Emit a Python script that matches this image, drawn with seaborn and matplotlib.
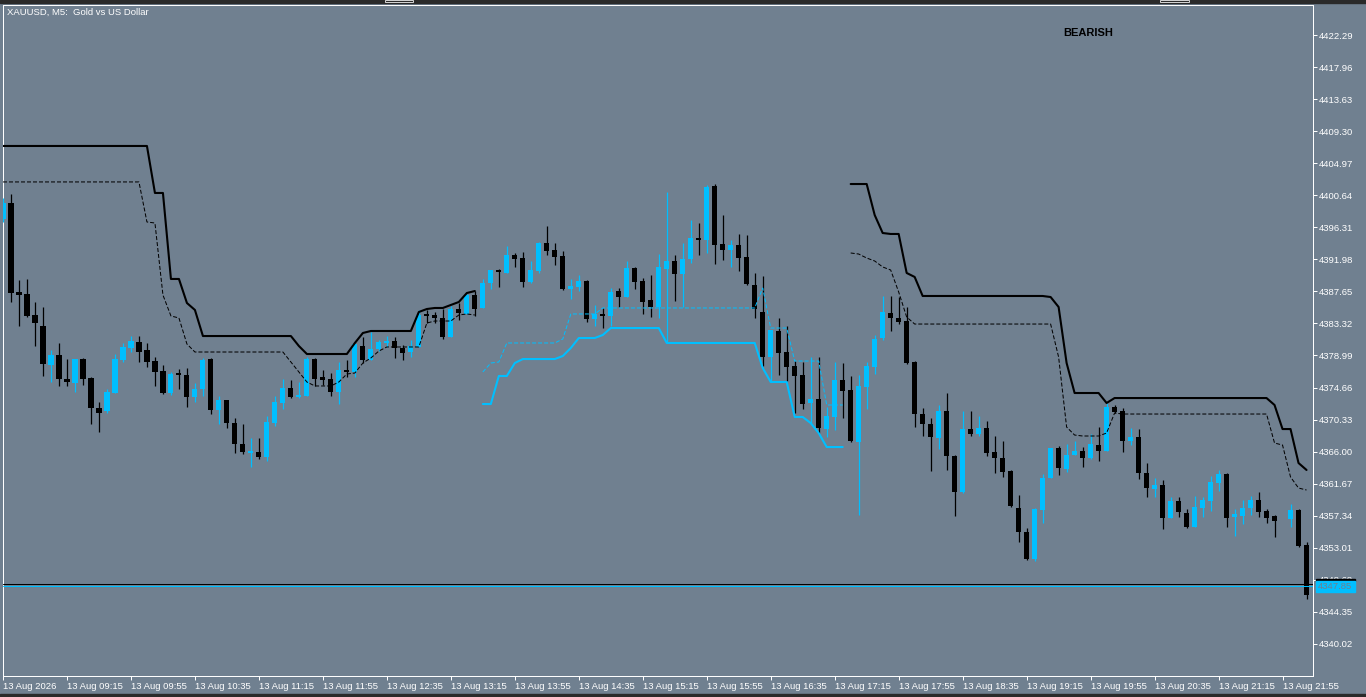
import numpy as np
import pandas as pd
import matplotlib
matplotlib.use('Agg')
import matplotlib.pyplot as plt
from matplotlib.patches import Rectangle
import seaborn as sns

nan = np.nan

# XAUUSD M5 candles, 13 Aug, one value per bar (bar 160 has no candle)
opens = [
    4397.43, 4399.59, 4387.57, 4387.30, 4384.46, 4382.98, 4377.70, 4379.05, 4375.81, 4375.27,
    4378.51, 4375.95, 4371.89, 4371.49, 4373.92, 4378.38, 4380.00, 4380.81, 4379.73, 4378.24,
    4376.89, 4373.92, 4376.62, 4376.35, 4373.38, 4374.46, 4378.51, 4371.62, 4372.98, 4369.86,
    4367.03, 4365.81, 4365.95, 4365.27, 4369.86, 4372.57, 4374.60, 4373.38, 4373.51, 4378.51,
    4376.08, 4375.81, 4374.06, 4377.03, 4376.76, 4380.27, 4378.38, 4379.86, 4380.68, 4380.95,
    4380.00, 4379.46, 4380.14, 4384.60, 4384.46, 4384.06, 4381.49, 4385.27, 4384.60, 4387.16,
    4385.41, 4388.78, 4390.54, 4390.14, 4392.57, 4392.16, 4388.92, 4390.41, 4394.19, 4393.24,
    4392.43, 4387.97, 4388.24, 4389.05, 4383.92, 4384.60, 4384.33, 4387.70, 4386.89, 4390.81,
    4389.05, 4386.49, 4385.54, 4390.68, 4391.76, 4390.00, 4392.03, 4394.87, 4394.60, 4401.89,
    4394.06, 4393.24, 4393.92, 4392.30, 4388.51, 4384.87, 4378.78, 4382.30, 4379.46, 4377.57,
    4376.35, 4372.57, 4373.11, 4369.05, 4370.68, 4375.68, 4374.33, 4367.30, 4374.73, 4377.43,
    4381.35, 4384.73, 4384.06, 4383.65, 4378.11, 4371.08, 4369.73, 4367.84, 4371.49, 4365.41,
    4360.54, 4369.05, 4368.38, 4369.19, 4365.95, 4365.14, 4363.38, 4358.38, 4355.14, 4351.49,
    4358.11, 4362.43, 4366.49, 4363.65, 4365.54, 4366.08, 4365.14, 4366.89, 4366.08, 4372.03,
    4371.49, 4367.43, 4367.97, 4363.11, 4360.95, 4361.49, 4357.03, 4359.32, 4357.70, 4355.81,
    4358.38, 4359.32, 4361.76, 4362.97, 4357.16, 4357.30, 4358.38, 4359.46, 4357.97, 4357.30,
    nan, 4356.89, 4358.11, 4353.38,
]
highs = [
    4400.27, 4400.81, 4389.19, 4389.33, 4386.22, 4385.54, 4379.73, 4380.68, 4378.51, 4378.51,
    4378.65, 4376.08, 4372.70, 4374.46, 4379.19, 4380.68, 4381.62, 4381.62, 4380.68, 4378.78,
    4377.70, 4376.76, 4377.16, 4377.30, 4375.27, 4378.65, 4378.65, 4373.51, 4372.98, 4370.54,
    4369.73, 4367.84, 4367.84, 4370.81, 4373.51, 4375.81, 4375.68, 4375.41, 4378.78, 4378.65,
    4377.03, 4376.62, 4378.11, 4378.38, 4380.54, 4381.49, 4382.16, 4381.08, 4381.62, 4381.49,
    4380.41, 4381.08, 4385.14, 4385.14, 4384.87, 4385.27, 4385.68, 4386.08, 4387.30, 4387.70,
    4389.33, 4390.54, 4390.68, 4393.79, 4392.84, 4392.97, 4391.76, 4394.33, 4396.49, 4394.19,
    4393.11, 4389.33, 4389.86, 4389.19, 4385.81, 4385.41, 4388.11, 4388.11, 4391.76, 4390.95,
    4389.46, 4389.86, 4392.70, 4401.08, 4392.57, 4394.19, 4397.30, 4396.89, 4402.03, 4402.16,
    4397.97, 4394.60, 4395.41, 4395.27, 4390.14, 4389.73, 4382.44, 4384.06, 4382.98, 4378.24,
    4378.11, 4378.78, 4378.78, 4372.03, 4378.11, 4377.97, 4376.22, 4376.35, 4378.11, 4381.76,
    4387.03, 4387.03, 4386.89, 4385.54, 4378.24, 4371.89, 4370.54, 4372.30, 4373.92, 4365.54,
    4371.49, 4371.49, 4370.81, 4370.14, 4368.11, 4367.43, 4363.52, 4360.14, 4355.68, 4358.38,
    4362.97, 4366.49, 4366.76, 4367.03, 4367.43, 4366.62, 4368.38, 4369.32, 4372.57, 4372.30,
    4371.89, 4369.19, 4369.05, 4364.46, 4362.43, 4362.16, 4359.86, 4359.86, 4358.24, 4360.00,
    4359.86, 4362.70, 4363.52, 4363.11, 4358.24, 4359.46, 4360.00, 4360.54, 4358.24, 4357.43,
    nan, 4358.92, 4358.24, 4353.79,
]
lows = [
    4397.03, 4386.22, 4382.98, 4384.19, 4380.27, 4376.22, 4375.41, 4374.87, 4374.87, 4374.06,
    4375.00, 4369.73, 4368.65, 4371.22, 4373.92, 4378.11, 4379.46, 4378.11, 4377.43, 4374.87,
    4373.79, 4373.65, 4374.46, 4372.03, 4372.70, 4373.51, 4371.08, 4369.73, 4369.19, 4365.81,
    4365.68, 4363.92, 4364.99, 4364.73, 4369.46, 4371.76, 4373.24, 4373.24, 4373.51, 4374.87,
    4375.00, 4373.51, 4372.43, 4376.08, 4376.08, 4377.97, 4378.38, 4379.59, 4380.14, 4378.65,
    4378.38, 4378.78, 4380.14, 4383.38, 4383.38, 4381.22, 4381.49, 4383.79, 4384.60, 4384.33,
    4385.41, 4387.97, 4388.24, 4390.14, 4390.95, 4388.24, 4388.78, 4390.14, 4392.57, 4391.22,
    4387.84, 4386.62, 4387.70, 4383.51, 4382.98, 4382.70, 4382.98, 4385.54, 4386.89, 4387.97,
    4384.60, 4384.19, 4384.06, 4380.81, 4386.35, 4385.54, 4391.49, 4392.57, 4392.84, 4391.35,
    4391.89, 4390.95, 4390.41, 4388.51, 4384.06, 4377.57, 4375.41, 4376.35, 4375.54, 4371.22,
    4371.76, 4369.86, 4368.51, 4367.97, 4368.92, 4370.54, 4367.30, 4357.43, 4371.76, 4376.49,
    4381.08, 4382.30, 4383.24, 4377.84, 4369.32, 4368.11, 4363.38, 4366.35, 4363.52, 4357.30,
    4360.41, 4368.11, 4368.11, 4365.41, 4363.11, 4362.57, 4358.51, 4353.79, 4351.35, 4351.22,
    4356.35, 4362.43, 4362.84, 4363.25, 4365.54, 4363.92, 4365.00, 4364.73, 4366.08, 4371.22,
    4365.95, 4366.89, 4362.30, 4359.86, 4359.86, 4355.54, 4357.03, 4357.16, 4355.68, 4355.81,
    4357.16, 4357.97, 4360.68, 4355.81, 4354.60, 4356.22, 4357.43, 4357.16, 4356.35, 4354.46,
    nan, 4355.81, 4353.11, 4346.08,
]
closes = [
    4399.59, 4387.43, 4387.16, 4384.33, 4383.38, 4377.84, 4379.05, 4375.81, 4375.41, 4378.51,
    4375.81, 4371.89, 4371.22, 4374.06, 4378.51, 4380.14, 4380.95, 4379.46, 4378.11, 4376.76,
    4373.92, 4376.49, 4376.35, 4373.38, 4374.46, 4378.38, 4371.62, 4372.98, 4369.86, 4367.03,
    4365.95, 4366.08, 4365.27, 4370.00, 4372.70, 4374.60, 4373.38, 4373.65, 4378.51, 4375.81,
    4375.68, 4374.06, 4377.03, 4376.76, 4380.54, 4378.38, 4379.86, 4380.81, 4380.95, 4380.00,
    4379.32, 4380.27, 4384.46, 4384.33, 4384.06, 4381.49, 4385.27, 4384.73, 4387.16, 4385.27,
    4388.78, 4390.54, 4390.27, 4392.57, 4392.03, 4388.92, 4390.54, 4394.19, 4393.11, 4392.30,
    4387.97, 4388.38, 4389.05, 4383.92, 4384.60, 4384.33, 4387.57, 4386.89, 4390.81, 4388.92,
    4386.22, 4385.54, 4390.95, 4391.76, 4390.00, 4392.03, 4394.87, 4394.60, 4401.76, 4393.92,
    4393.24, 4393.92, 4392.16, 4388.65, 4385.27, 4378.78, 4382.44, 4379.32, 4377.43, 4376.22,
    4372.43, 4373.11, 4369.19, 4370.81, 4375.68, 4374.19, 4367.43, 4374.87, 4377.57, 4381.22,
    4384.87, 4384.06, 4383.51, 4377.97, 4371.08, 4369.73, 4367.97, 4371.49, 4365.41, 4360.54,
    4369.05, 4368.38, 4369.19, 4365.81, 4365.14, 4363.25, 4358.65, 4355.14, 4351.49, 4358.24,
    4362.43, 4366.49, 4363.78, 4365.54, 4366.08, 4365.14, 4367.03, 4366.08, 4372.03, 4371.35,
    4367.43, 4367.97, 4363.11, 4361.08, 4361.49, 4357.03, 4359.32, 4357.84, 4355.81, 4358.51,
    4359.46, 4361.89, 4362.97, 4357.03, 4357.57, 4358.38, 4359.46, 4357.84, 4357.03, 4356.62,
    nan, 4358.11, 4353.25, 4346.62,
]

# trailing stop indicator: black = bearish stop, cyan = bullish stop, dashed = inner band
stop_upper = [
    4407.30, 4407.30, 4407.30, 4407.30, 4407.30, 4407.30, 4407.30, 4407.30, 4407.30, 4407.30,
    4407.30, 4407.30, 4407.30, 4407.30, 4407.30, 4407.30, 4407.30, 4407.30, 4407.30, 4400.95,
    4400.95, 4389.33, 4389.33, 4386.08, 4385.14, 4381.62, 4381.62, 4381.62, 4381.62, 4381.62,
    4381.62, 4381.62, 4381.62, 4381.62, 4381.62, 4381.62, 4381.62, 4380.27, 4379.19, 4379.19,
    4379.19, 4379.19, 4379.19, 4379.19, 4380.68, 4382.03, 4382.30, 4382.30, 4382.30, 4382.30,
    4382.30, 4382.30, 4384.87, 4385.27, 4385.41, 4385.41, 4385.81, 4386.22, 4387.43, 4387.70,
    nan, nan, nan, nan, nan, nan, nan, nan, nan, nan,
    nan, nan, nan, nan, nan, nan, nan, nan, nan, nan,
    nan, nan, nan, nan, nan, nan, nan, nan, nan, nan,
    nan, nan, nan, nan, nan, nan, nan, nan, nan, nan,
    nan, nan, nan, nan, nan, nan, 4402.16, 4402.16, 4402.16, 4397.97,
    4395.54, 4395.41, 4395.41, 4390.14, 4389.60, 4387.03, 4387.03, 4387.03, 4387.03, 4387.03,
    4387.03, 4387.03, 4387.03, 4387.03, 4387.03, 4387.03, 4387.03, 4387.03, 4387.03, 4387.03,
    4387.03, 4386.89, 4385.54, 4377.97, 4373.92, 4373.92, 4373.92, 4373.92, 4372.57, 4373.24,
    4373.24, 4373.24, 4373.24, 4373.24, 4373.24, 4373.24, 4373.24, 4373.24, 4373.24, 4373.24,
    4373.24, 4373.24, 4373.24, 4373.24, 4373.24, 4373.24, 4373.24, 4373.24, 4373.24, 4372.30,
    4369.05, 4369.05, 4364.46, 4363.52,
]
band_upper = [
    4402.44, 4402.44, 4402.44, 4402.44, 4402.44, 4402.44, 4402.44, 4402.44, 4402.44, 4402.44,
    4402.44, 4402.44, 4402.44, 4402.44, 4402.44, 4402.44, 4402.44, 4402.44, 4397.03, 4396.89,
    4387.16, 4384.33, 4384.06, 4380.54, 4379.46, 4379.46, 4379.46, 4379.46, 4379.46, 4379.46,
    4379.46, 4379.46, 4379.46, 4379.46, 4379.46, 4379.46, 4378.11, 4376.76, 4375.41, 4374.87,
    4374.87, 4374.87, 4375.41, 4376.49, 4376.62, 4377.97, 4378.65, 4379.59, 4380.14, 4380.14,
    4380.14, 4380.14, 4380.14, 4383.38, 4383.65, 4383.65, 4383.65, 4384.46, 4384.60, 4384.46,
    nan, nan, nan, nan, nan, nan, nan, nan, nan, nan,
    nan, nan, nan, nan, nan, nan, nan, nan, nan, nan,
    nan, nan, nan, nan, nan, nan, nan, nan, nan, nan,
    nan, nan, nan, nan, nan, nan, nan, nan, nan, nan,
    nan, nan, nan, nan, nan, nan, 4392.84, 4392.70, 4392.16, 4391.76,
    4390.95, 4390.54, 4387.57, 4384.19, 4383.24, 4383.24, 4383.24, 4383.24, 4383.24, 4383.24,
    4383.24, 4383.24, 4383.24, 4383.24, 4383.24, 4383.24, 4383.24, 4383.24, 4383.24, 4383.24,
    4383.24, 4383.24, 4378.78, 4369.32, 4368.24, 4368.11, 4368.11, 4368.11, 4368.51, 4371.22,
    4371.08, 4371.08, 4371.08, 4371.08, 4371.08, 4371.08, 4371.08, 4371.08, 4371.08, 4371.08,
    4371.08, 4371.08, 4371.08, 4371.08, 4371.08, 4371.08, 4371.08, 4371.08, 4371.08, 4367.16,
    4366.89, 4362.57, 4361.08, 4360.81,
]
stop_lower = [
    nan, nan, nan, nan, nan, nan, nan, nan, nan, nan,
    nan, nan, nan, nan, nan, nan, nan, nan, nan, nan,
    nan, nan, nan, nan, nan, nan, nan, nan, nan, nan,
    nan, nan, nan, nan, nan, nan, nan, nan, nan, nan,
    nan, nan, nan, nan, nan, nan, nan, nan, nan, nan,
    nan, nan, nan, nan, nan, nan, nan, nan, nan, nan,
    4372.43, 4372.43, 4376.22, 4376.22, 4377.97, 4378.51, 4378.51, 4378.51, 4378.51, 4378.51,
    4378.92, 4380.00, 4381.35, 4381.35, 4381.35, 4381.76, 4382.70, 4382.70, 4382.70, 4382.70,
    4382.70, 4382.70, 4382.70, 4380.68, 4380.68, 4380.68, 4380.68, 4380.68, 4380.68, 4380.68,
    4380.68, 4380.68, 4380.68, 4380.68, 4380.68, 4377.30, 4375.41, 4375.41, 4375.41, 4370.68,
    4370.68, 4369.86, 4368.51, 4366.62, 4366.62, 4366.62, nan, nan, nan, nan,
    nan, nan, nan, nan, nan, nan, nan, nan, nan, nan,
    nan, nan, nan, nan, nan, nan, nan, nan, nan, nan,
    nan, nan, nan, nan, nan, nan, nan, nan, nan, nan,
    nan, nan, nan, nan, nan, nan, nan, nan, nan, nan,
    nan, nan, nan, nan, nan, nan, nan, nan, nan, nan,
    nan, nan, nan, nan,
]
band_lower = [
    nan, nan, nan, nan, nan, nan, nan, nan, nan, nan,
    nan, nan, nan, nan, nan, nan, nan, nan, nan, nan,
    nan, nan, nan, nan, nan, nan, nan, nan, nan, nan,
    nan, nan, nan, nan, nan, nan, nan, nan, nan, nan,
    nan, nan, nan, nan, nan, nan, nan, nan, nan, nan,
    nan, nan, nan, nan, nan, nan, nan, nan, nan, nan,
    4376.76, 4377.97, 4378.11, 4380.68, 4380.68, 4380.68, 4380.68, 4380.68, 4380.68, 4380.68,
    4381.22, 4384.60, 4384.60, 4384.60, 4384.60, 4385.41, 4385.41, 4385.41, 4385.41, 4385.41,
    4385.41, 4385.41, 4385.41, 4385.41, 4385.41, 4385.41, 4385.41, 4385.41, 4385.41, 4385.41,
    4385.41, 4385.41, 4385.41, 4385.41, 4385.41, 4388.11, 4382.70, 4382.70, 4382.70, 4378.24,
    4378.24, 4378.24, 4378.24, 4372.30, 4372.30, 4372.30, nan, nan, nan, nan,
    nan, nan, nan, nan, nan, nan, nan, nan, nan, nan,
    nan, nan, nan, nan, nan, nan, nan, nan, nan, nan,
    nan, nan, nan, nan, nan, nan, nan, nan, nan, nan,
    nan, nan, nan, nan, nan, nan, nan, nan, nan, nan,
    nan, nan, nan, nan, nan, nan, nan, nan, nan, nan,
    nan, nan, nan, nan,
]

tick_bars = [0, 8, 16, 24, 32, 40, 48, 56, 64, 72, 80, 88, 96, 104, 112, 120, 128, 136, 144, 152, 160]
tick_labels = ['13 Aug 2026', '13 Aug 09:15', '13 Aug 09:55', '13 Aug 10:35', '13 Aug 11:15',
               '13 Aug 11:55', '13 Aug 12:35', '13 Aug 13:15', '13 Aug 13:55', '13 Aug 14:35',
               '13 Aug 15:15', '13 Aug 15:55', '13 Aug 16:35', '13 Aug 17:15', '13 Aug 17:55',
               '13 Aug 18:35', '13 Aug 19:15', '13 Aug 19:55', '13 Aug 20:35', '13 Aug 21:15',
               '13 Aug 21:55']
price_ticks = [4422.29, 4417.96, 4413.63, 4409.30, 4404.97, 4400.64, 4396.31, 4391.98, 4387.65,
               4383.32, 4378.99, 4374.66, 4370.33, 4366.00, 4361.67, 4357.34, 4353.01, 4348.68,
               4344.35, 4340.02]
bid = 4347.85
ask = 4348.05

bg = '#708090'
up_col = '#00BFFF'
W, H = 1366, 697

df = pd.DataFrame({'open': opens, 'high': highs, 'low': lows, 'close': closes,
                   'stop_upper': stop_upper, 'band_upper': band_upper,
                   'stop_lower': stop_lower, 'band_lower': band_lower})
df['bar'] = np.arange(len(df))

sns.set_theme(style='dark', rc={'axes.facecolor': bg, 'figure.facecolor': bg,
                                'axes.edgecolor': 'white', 'axes.grid': False})
plt.rcParams['font.family'] = ['Liberation Sans', 'DejaVu Sans']

fig = plt.figure(figsize=(W / 100, H / 100), dpi=100)
ax = fig.add_axes([3 / W, 21 / H, 1310 / W, 671 / H])

# candles
c = df.dropna(subset=['open'])
colors = np.where(c['close'] > c['open'], up_col, 'black')
ax.vlines(c['bar'], c['low'], c['high'], colors=colors, linewidth=0.9, zorder=3)
body_lo = c[['open', 'close']].min(axis=1)
body_h = (c['close'] - c['open']).abs().clip(lower=0.14)
ax.bar(c['bar'], body_h, bottom=body_lo, width=0.64, color=colors, linewidth=0, zorder=4)

# indicator lines
ax.plot(df['bar'], df['stop_upper'], color='black', lw=1.5, zorder=5)
ax.plot(df['bar'], df['band_upper'], color='black', lw=0.72, ls=(0, (4, 2)), zorder=5)
ax.plot(df['bar'], df['stop_lower'], color=up_col, lw=1.5, zorder=5)
ax.plot(df['bar'], df['band_lower'], color=up_col, lw=0.72, ls=(0, (4, 2)), zorder=5)

ax.axhline(ask, color='black', lw=0.75, zorder=6)
ax.axhline(bid, color=up_col, lw=0.75, zorder=6)

ax.set_xlim(0.0625, 163.81)
ax.set_ylim(4335.68, 4426.35)

ax.set_xticks(tick_bars)
ax.set_xticklabels(tick_labels, ha='left')
ax.yaxis.tick_right()
ax.set_yticks(price_ticks)
ax.set_yticklabels([f'{v:.2f}' for v in price_ticks])
ax.tick_params(axis='x', bottom=True, direction='out', length=2.9, width=0.72,
               color='white', labelcolor='white', labelsize=6.8, pad=1.5)
ax.tick_params(axis='y', right=True, left=False, labelright=True, labelleft=False,
               direction='out', length=2.9, width=0.72, color='white',
               labelcolor='white', labelsize=6.8, pad=1)
ax.set_xlabel('')
ax.set_ylabel('')
for s in ax.spines.values():
    s.set_color('white')
    s.set_linewidth(0.72)

# terminal bits around the chart
fig.add_artist(Rectangle((0, 1 - 3 / H), 1, 3 / H, transform=fig.transFigure,
                         color='#2a2a2a', zorder=1))
for x0, x1 in [(385, 413), (1160, 1189)]:
    fig.add_artist(Rectangle((x0 / W, 1 - 2 / H), (x1 - x0) / W, 2 / H, transform=fig.transFigure,
                             fill=False, edgecolor='#d8d8d8', lw=0.7, zorder=2))
fig.add_artist(Rectangle((0, 0), 1, 3 / H, transform=fig.transFigure, color='#2a2a2a', zorder=1))

fig.text(7 / W, 1 - 12 / H, 'XAUUSD, M5:  Gold vs US Dollar', color='white', fontsize=6.8,
         va='center', ha='left')
fig.text(1063 / W, 1 - 33 / H, 'BEARISH', color='black', fontsize=8, fontweight='bold',
         va='center', ha='left')

# current price tag (covers the 4348.68 scale label, as on the terminal)
fig.add_artist(Rectangle((1316 / W, 1 - 581 / H), 39 / W, 2 / H, transform=fig.transFigure,
                         color='black', zorder=10))
fig.add_artist(Rectangle((1316 / W, 1 - 592 / H), 39 / W, 11 / H, transform=fig.transFigure,
                         color=up_col, zorder=10))
fig.text(1318 / W, 1 - 586.5 / H, f'{bid:.2f}', color=bg, fontsize=6.8, va='center', ha='left',
         zorder=11)

fig.savefig('out.png', dpi=100, facecolor=bg)
